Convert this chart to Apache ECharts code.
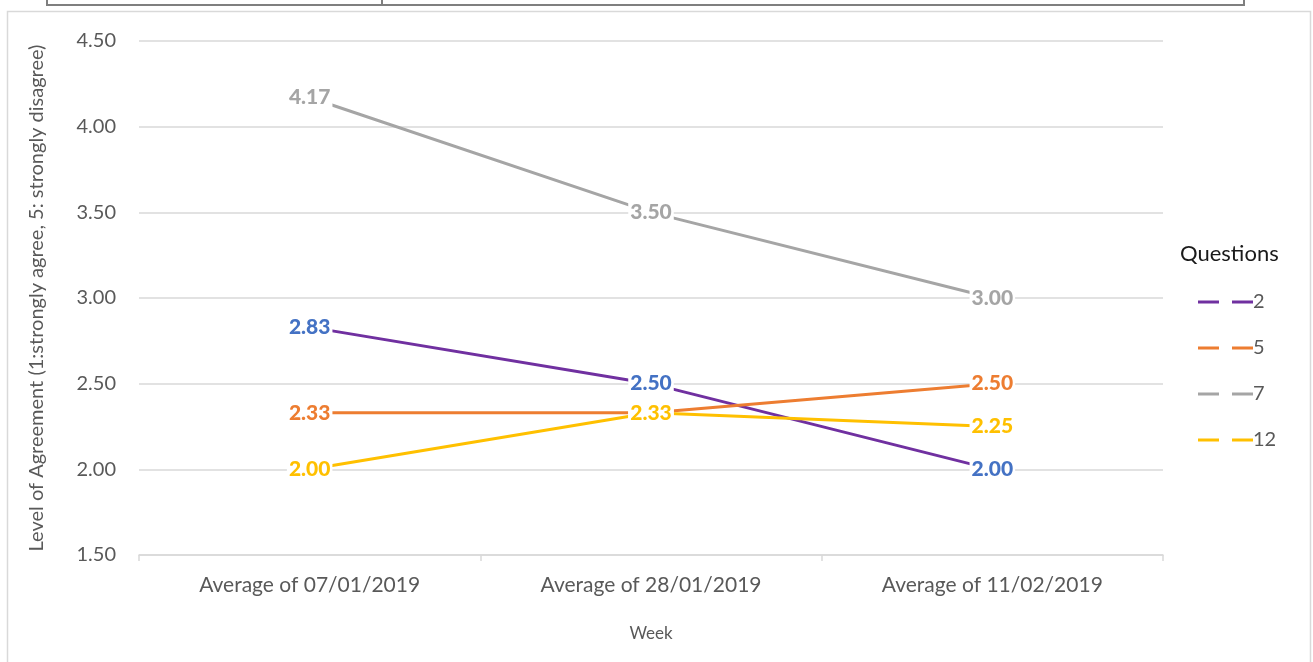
<!DOCTYPE html>
<html><head><meta charset="utf-8">
<script src="https://cdn.jsdelivr.net/npm/echarts@6/dist/echarts.min.js"></script>
<style>html,body{margin:0;padding:0;background:#fff}#c{width:1313px;height:662px}</style>
</head><body><div id="c"></div>
<script>
const categories = ['Average of 07/01/2019', 'Average of 28/01/2019', 'Average of 11/02/2019'];
const seriesNames = ['2', '5', '7', '12'];
const q2 = [2.83, 2.50, 2.00];
const q5 = [2.33, 2.33, 2.50];
const q7 = [4.17, 3.50, 3.00];
const q12 = [2.00, 2.33, 2.25];
const yTicks = { min: 1.5, max: 4.5, interval: 0.5 };

const lineColors = ['#7030A0', '#ED7D31', '#A5A5A5', '#FFC000'];
const labelColors = ['#4472C4', '#ED7D31', '#A5A5A5', '#FFC000'];
const data = [q2, q5, q7, q12];
const FONT = 'Lato';
const dashIcon = 'path://M0,0H21V3H0Z M34,0H55V3H34Z';

const chart = echarts.init(document.getElementById('c'));
chart.setOption({
  animation: false,
  textStyle: { fontFamily: FONT },
  title: {
    text: 'Questions', left: 1175, top: 238,
    textStyle: { fontFamily: FONT, fontSize: 22, fontWeight: 'normal', color: '#1a1a1a' }
  },
  legend: {
    orient: 'vertical', left: 1193, top: 287,
    icon: dashIcon,
    itemWidth: 55, itemHeight: 3, itemGap: 26,
    textStyle: { fontFamily: FONT, fontSize: 20, color: '#595959', padding: [0, 0, 0, -5] },
    data: seriesNames
  },
  grid: { left: 139, top: 41, width: 1024, height: 514 },
  xAxis: {
    type: 'category', data: categories, boundaryGap: true,
    name: 'Week', nameLocation: 'middle', nameGap: 70,
    nameTextStyle: { fontFamily: FONT, fontSize: 17, color: '#595959' },
    axisLine: { lineStyle: { color: '#d9d9d9', width: 1.5 } },
    axisTick: { show: true, length: 6, lineStyle: { color: '#d9d9d9', width: 1.5 } },
    axisLabel: { fontFamily: FONT, fontSize: 21, color: '#595959', margin: 20 }
  },
  yAxis: {
    type: 'value', min: yTicks.min, max: yTicks.max, interval: yTicks.interval,
    name: 'Level of Agreement (1:strongly agree, 5: strongly disagree)',
    nameLocation: 'middle', nameGap: 92,
    nameTextStyle: { fontFamily: FONT, fontSize: 20, color: '#595959' },
    axisLine: { show: false }, axisTick: { show: false },
    axisLabel: { fontFamily: FONT, fontSize: 20, color: '#595959', margin: 23, formatter: v => v.toFixed(2) },
    splitLine: { lineStyle: { color: '#d9d9d9', width: 1.5 } }
  },
  series: seriesNames.map((n, i) => ({
    name: n, type: 'line', data: data[i],
    symbol: 'circle', symbolSize: 0, showSymbol: true,
    color: lineColors[i],
    itemStyle: { color: lineColors[i] },
    lineStyle: { color: lineColors[i], width: 3, type: 'solid' },
    label: {
      show: true, position: 'inside',
      formatter: p => p.value.toFixed(2),
      fontFamily: FONT, fontSize: 21, fontWeight: 900, color: labelColors[i],
      backgroundColor: '#fff', padding: [0, 2]
    },
    emphasis: { disabled: true }
  })),
  graphic: [
    { type: 'rect', shape: { x: 7.5, y: 11.5, width: 1303, height: 660 }, style: { fill: 'none', stroke: '#d9d9d9', lineWidth: 1.5 }, silent: true },
    { type: 'polyline', shape: { points: [[47, 0], [47, 5], [1244, 5], [1244, 0]] }, style: { fill: 'none', stroke: '#7f7f7f', lineWidth: 2 }, silent: true },
    { type: 'line', shape: { x1: 382, y1: 0, x2: 382, y2: 5 }, style: { stroke: '#7f7f7f', lineWidth: 2 }, silent: true }
  ]
});
</script></body></html>
